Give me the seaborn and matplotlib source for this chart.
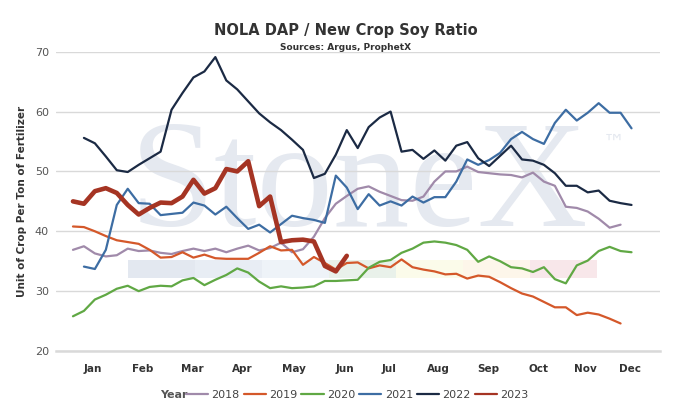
import numpy as np
import matplotlib
matplotlib.use('Agg')
import matplotlib.pyplot as plt
import seaborn as sns
from matplotlib.lines import Line2D
from matplotlib.patches import Rectangle

sns.set_style('white')
plt.rcParams['font.family'] = ['DejaVu Sans']

# weekly ratios
years = ['2018', '2019', '2020', '2021', '2022', '2023']
start_week = {'2018': 1, '2019': 1, '2020': 1, '2021': 2, '2022': 2, '2023': 1}

r2018 = [36.9, 37.5, 36.3, 35.8, 36.0, 37.1, 36.7, 36.8, 36.4, 36.2, 36.7, 37.1, 36.7,
         37.1, 36.5, 37.1, 37.6, 36.8, 37.2, 38.1, 36.5, 37.0, 39.1, 42.2, 44.6, 45.9,
         47.1, 47.5, 46.6, 45.9, 45.2, 45.1, 45.8, 48.3, 50.0, 50.0, 50.8, 49.9, 49.7,
         49.5, 49.4, 49.0, 49.8, 48.3, 47.6, 44.1, 43.9, 43.3, 42.1, 40.6, 41.1]
r2019 = [40.8, 40.7, 40.0, 39.2, 38.5, 38.2, 37.9, 36.9, 35.6, 35.7, 36.5, 35.6, 36.1,
         35.5, 35.4, 35.4, 35.4, 36.4, 37.5, 36.8, 36.9, 34.4, 35.7, 34.7, 33.6, 34.7,
         34.8, 33.8, 34.3, 34.0, 35.3, 34.0, 33.6, 33.3, 32.8, 32.9, 32.1, 32.6, 32.4,
         31.5, 30.5, 29.6, 29.1, 28.2, 27.3, 27.3, 26.0, 26.4, 26.1, 25.4, 24.6]
r2020 = [25.8, 26.7, 28.6, 29.4, 30.4, 30.9, 30.0, 30.7, 30.9, 30.8, 31.8, 32.2, 31.0,
         31.9, 32.7, 33.8, 33.1, 31.6, 30.5, 30.8, 30.5, 30.6, 30.8, 31.7, 31.7, 31.8,
         31.9, 33.9, 34.9, 35.2, 36.4, 37.1, 38.1, 38.3, 38.1, 37.7, 36.9, 34.9, 35.8,
         35.0, 34.0, 33.8, 33.2, 34.0, 32.0, 31.3, 34.3, 35.1, 36.7, 37.4, 36.7, 36.5]
r2021 = [34.1, 33.7, 36.9, 44.4, 47.1, 44.7, 44.6, 42.7, 42.9, 43.1, 44.8, 44.3,
         42.8, 44.1, 42.2, 40.4, 41.1, 39.8, 41.2, 42.6, 42.2, 41.9, 41.4, 49.3, 47.3,
         43.7, 46.2, 44.3, 45.0, 44.3, 45.8, 44.8, 45.7, 45.7, 48.3, 52.0, 51.1, 51.9,
         53.1, 55.4, 56.6, 55.4, 54.6, 58.1, 60.3, 58.5, 59.8, 61.4, 59.8, 59.8, 57.2]
r2022 = [55.6, 54.7, 52.5, 50.2, 49.9, 51.1, 52.2, 53.3, 60.3, 63.1, 65.7, 66.7,
         69.1, 65.2, 63.7, 61.7, 59.7, 58.2, 56.9, 55.3, 53.6, 48.9, 49.6, 52.8, 56.9,
         53.9, 57.4, 59.0, 60.0, 53.3, 53.6, 52.1, 53.5, 51.8, 54.3, 54.9, 52.2, 50.9,
         52.6, 54.3, 52.0, 51.8, 51.1, 49.7, 47.6, 47.6, 46.5, 46.8, 45.1, 44.7, 44.4]
r2023 = [45.0, 44.6, 46.7, 47.2, 46.4, 44.4, 42.8, 43.9, 44.8, 44.7, 45.8, 48.6, 46.3,
         47.2, 50.4, 50.0, 51.7, 44.2, 45.8, 38.2, 38.5, 38.6, 38.3, 34.2, 33.3, 35.9]

series = {'2018': r2018, '2019': r2019, '2020': r2020,
          '2021': r2021, '2022': r2022, '2023': r2023}

colors = {'2018': '#a08aaa', '2019': '#d4582a', '2020': '#60a844',
          '2021': '#3d6da3', '2022': '#1b2a44', '2023': '#a53423'}
widths = {y: 1.6 for y in years}
widths['2023'] = 3.3

months = ['Jan', 'Feb', 'Mar', 'Apr', 'May', 'Jun', 'Jul', 'Aug', 'Sep', 'Oct', 'Nov', 'Dec']
month_pos = [2.8, 7.4, 11.9, 16.5, 21.2, 25.8, 29.9, 34.4, 38.9, 43.5, 47.8, 51.9]

fig = plt.figure(figsize=(6.92, 4.08), dpi=100)
ax = fig.add_axes([56 / 692, 1 - 351 / 408, 604 / 692, 299.3 / 408])

# StoneX watermark
ax.text(130 / 692, 1 - 226 / 408, 'StoneX', transform=fig.transFigure,
        family='Liberation Serif', fontsize=110, color='#e5e9f0',
        va='baseline', ha='left', zorder=0.2)
ax.text(603 / 692, 1 - 150 / 408, '™', transform=fig.transFigure,
        fontsize=16, color='#e5e9f0', va='baseline', ha='left', zorder=0.2)
band_cols = ['#e3e8f0', '#e8edf4', '#eef3f8', '#e9f1ea', '#fbfbea', '#fdf6ea', '#f8e7ea']
for i, c in enumerate(band_cols):
    x0 = 128 + i * 67
    ax.add_patch(Rectangle((x0 / 692, 1 - 278 / 408), 67 / 692, 18 / 408,
                           transform=fig.transFigure, color=c, zorder=0.2, lw=0))

for y in years:
    vals = series[y]
    wk = np.arange(start_week[y], start_week[y] + len(vals))
    sns.lineplot(x=wk, y=vals, ax=ax, color=colors[y], linewidth=widths[y],
                 zorder=3 if y == '2023' else 2)

ax.set_xlim(-0.55, 54.6)
ax.set_ylim(20, 70)
ax.set_yticks([20, 30, 40, 50, 60, 70])
ax.set_xticks(month_pos)
ax.set_xticklabels(months, fontweight='bold', fontsize=7.5, color='#333333')
ax.tick_params(axis='x', length=0, pad=9)
ax.tick_params(axis='y', length=0, pad=5, labelsize=8, labelcolor='#555555')
ax.set_axisbelow(True)
ax.grid(axis='y', color='#d9d9d9', linewidth=1, zorder=0.5)
ax.grid(axis='x', visible=False)
for s in ['top', 'right', 'left']:
    ax.spines[s].set_visible(False)
ax.spines['bottom'].set_color('#d9d9d9')
ax.spines['bottom'].set_linewidth(1.8)
ax.set_xlabel('')
ax.set_ylabel('')

fig.text(22 / 692, 0.507, 'Unit of Crop Per Ton of Fertilizer', rotation=90,
         ha='center', va='center', fontsize=7.5, fontweight='bold', color='#333333')
fig.text(0.5, 1 - 30 / 408, 'NOLA DAP / New Crop Soy Ratio', ha='center', va='center',
         fontsize=10.5, fontweight='bold', color='#333333')
fig.text(0.5, 1 - 47 / 408, 'Sources: Argus, ProphetX', ha='center', va='center',
         fontsize=6.5, fontweight='bold', color='#333333')

handles = [Line2D([], [], color=colors[y], linewidth=1.6) for y in years]
fig.text(188 / 692, 1 - 395 / 408, 'Year', ha='right', va='center',
         fontsize=8, fontweight='bold', color='#555555')
fig.legend(handles, years, loc='center left', bbox_to_anchor=(186 / 692, 1 - 395 / 408),
           ncol=6, frameon=False, handlelength=2.0, handletextpad=0.3,
           columnspacing=0.35, fontsize=8, labelcolor='#444444', borderaxespad=0,
           borderpad=0)

plt.savefig('out.png', dpi=100)
